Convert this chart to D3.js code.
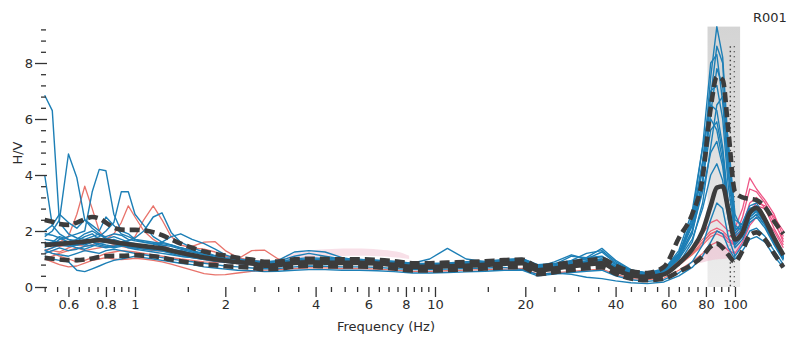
<!DOCTYPE html>
<html><head><meta charset="utf-8">
<script src="https://cdn.jsdelivr.net/npm/d3@7"></script>
<style>body{margin:0;background:#fff}svg{display:block}</style>
</head><body>
<svg id="c" width="787" height="341"></svg>
<script>
// Frequency grid (Hz)
const freqs = [0.5,0.53,0.56,0.6,0.64,0.68,0.72,0.76,0.8,0.85,
 0.9,0.95,1.0,1.07,1.15,1.23,1.32,1.42,1.55,1.7,
 1.85,2.0,2.2,2.45,2.7,3.0,3.4,3.8,4.3,4.9,
 5.6,6.4,7.3,8.4,9.6,11,12.7,14.7,17,19.5,
 22,25,28.5,32,36,40,45,51,58,65,
 72,78,83,87,91,95,100,106,112,118,
 126,135,145];

// Mean H/V and +/- std (dashed)
const median = [1.50,1.52,1.54,1.57,1.60,1.62,1.65,1.68,1.65,1.60,
 1.56,1.53,1.50,1.46,1.42,1.38,1.30,1.22,1.14,1.05,
 0.99,0.94,0.89,0.84,0.76,0.78,0.86,0.88,0.87,0.86,
 0.86,0.84,0.79,0.72,0.72,0.74,0.76,0.79,0.83,0.85,
 0.60,0.66,0.74,0.80,0.85,0.60,0.42,0.36,0.45,0.85,
 1.35,2.00,2.90,3.55,3.60,2.75,1.70,1.95,2.65,2.82,
 2.40,1.75,1.14];
const upper = [2.39,2.33,2.25,2.22,2.30,2.42,2.50,2.45,2.30,2.12,
 2.05,2.04,2.04,2.02,1.96,1.85,1.70,1.55,1.40,1.27,
 1.18,1.12,1.04,0.98,0.90,0.91,0.99,1.01,1.00,0.99,
 0.99,0.97,0.92,0.85,0.85,0.87,0.89,0.92,0.96,0.98,
 0.74,0.80,0.88,0.95,1.00,0.76,0.56,0.50,0.72,1.75,
 2.60,3.90,6.40,7.50,7.40,5.60,3.40,3.20,3.15,3.10,
 2.85,2.35,1.90];
const lower = [1.04,1.01,0.98,0.96,0.96,0.98,1.02,1.07,1.10,1.11,
 1.11,1.12,1.14,1.12,1.10,1.05,0.98,0.92,0.86,0.80,
 0.78,0.74,0.72,0.69,0.63,0.65,0.73,0.75,0.74,0.73,
 0.73,0.71,0.66,0.59,0.59,0.61,0.63,0.66,0.70,0.72,
 0.46,0.53,0.61,0.67,0.71,0.48,0.30,0.24,0.30,0.55,
 0.80,1.10,1.45,1.55,1.40,1.15,0.90,1.30,1.85,1.95,
 1.70,1.20,0.70];

// Individual windows (blue)
const blue1 = [6.85,6.30,2.30,1.90,1.75,1.70,1.80,1.90,1.75,1.65,
 1.60,1.55,1.50,1.45,1.40,1.30,1.25,1.15,1.10,1.00,
 0.95,0.90,0.85,0.82,0.80,0.80,0.90,0.92,0.90,0.88,
 0.86,0.84,0.80,0.75,0.76,0.78,0.80,0.84,0.90,0.92,
 0.70,0.72,0.80,0.90,0.95,0.70,0.50,0.42,0.55,1.10,
 2.20,4.20,7.50,9.30,8.20,5.00,2.40,2.20,2.80,2.90,
 2.40,1.70,1.05];
const blue2 = [4.00,2.20,1.90,1.70,1.55,1.50,1.60,1.55,1.50,1.45,
 1.50,1.45,1.40,1.35,1.32,1.28,1.20,1.10,1.05,0.98,
 0.92,0.88,0.84,0.80,0.78,0.80,0.85,0.90,0.90,0.88,
 0.87,0.85,0.80,0.74,0.74,0.76,0.78,0.80,0.86,0.90,
 0.66,0.70,0.78,0.86,0.92,0.66,0.46,0.38,0.50,1.00,
 1.90,3.60,6.80,8.60,8.00,4.60,2.10,2.10,2.70,2.85,
 2.30,1.60,1.00];
const blue3 = [1.80,2.00,2.40,4.75,3.90,2.40,2.10,1.90,1.70,1.80,
 1.70,1.60,1.55,1.50,1.45,1.40,1.35,1.25,1.15,1.05,
 1.00,0.95,0.90,0.86,0.82,0.84,0.92,0.96,0.95,0.92,
 0.90,0.88,0.84,0.78,0.77,0.80,0.82,0.85,0.90,0.95,
 0.72,0.75,0.82,0.92,1.00,0.75,0.52,0.44,0.56,1.05,
 2.00,3.80,6.20,7.80,7.20,4.20,2.00,2.30,2.90,3.00,
 2.50,1.80,1.15];
const blue4 = [1.60,1.50,1.70,1.80,1.90,2.00,3.40,4.20,4.15,2.60,
 2.00,1.90,1.70,1.60,1.55,1.50,1.45,1.35,1.25,1.15,
 1.05,1.00,0.95,0.90,0.85,0.86,0.95,1.00,0.98,0.95,
 0.95,0.92,0.88,0.82,0.80,0.82,0.85,0.88,0.95,1.00,
 0.78,0.80,0.88,1.00,1.08,0.80,0.55,0.46,0.60,1.20,
 2.40,4.50,7.00,7.20,6.00,3.60,1.90,2.20,2.80,2.90,
 2.45,1.80,1.10];
const blue5 = [1.30,1.40,1.50,1.60,1.50,1.60,1.70,1.80,2.00,2.30,
 3.40,3.40,2.60,2.20,1.80,1.60,1.50,1.40,1.30,1.20,
 1.10,1.02,0.96,0.90,0.88,0.90,1.00,1.05,1.02,1.00,
 0.98,0.95,0.90,0.85,0.84,0.86,0.90,0.92,0.98,1.02,
 0.80,0.84,0.92,1.05,1.10,0.82,0.60,0.50,0.62,1.30,
 2.70,5.00,6.50,6.30,5.00,3.00,1.80,2.10,2.70,2.85,
 2.40,1.75,1.10];
const blue6 = [1.40,1.60,1.80,1.70,1.65,1.80,1.90,1.70,1.60,1.70,
 1.60,1.65,1.75,2.00,2.50,2.65,1.95,1.60,1.40,1.25,
 1.12,1.05,1.00,0.95,0.90,0.92,1.10,1.20,1.10,1.00,
 0.98,0.96,0.92,0.85,1.00,1.38,1.00,0.90,0.95,1.00,
 0.76,0.82,0.95,1.20,1.30,0.90,0.60,0.50,0.65,1.20,
 2.20,3.80,5.60,5.90,4.80,2.90,1.60,1.90,2.50,2.70,
 2.30,1.70,1.05];
const blue7 = [1.20,1.30,1.40,1.30,1.35,1.45,1.50,1.45,1.40,1.45,
 1.50,1.45,1.40,1.45,1.50,1.60,1.80,1.90,1.70,1.55,
 1.35,1.15,1.00,0.92,0.88,0.95,1.25,1.30,1.25,1.05,
 0.95,0.92,0.88,0.82,0.80,0.84,0.86,0.88,0.92,0.96,
 0.74,0.80,1.10,1.05,1.38,0.95,0.62,0.48,0.60,1.10,
 2.00,3.40,4.80,5.20,4.30,2.60,1.50,1.80,2.40,2.60,
 2.20,1.60,1.00];
const blue8 = [1.10,1.00,0.95,0.90,0.60,0.55,0.65,0.75,0.85,0.95,
 1.00,1.05,1.10,1.05,1.00,0.95,0.90,0.85,0.80,0.72,
 0.68,0.64,0.60,0.58,0.55,0.56,0.60,0.62,0.62,0.60,
 0.60,0.58,0.55,0.50,0.50,0.52,0.54,0.56,0.60,0.60,
 0.40,0.46,0.52,0.56,0.60,0.40,0.26,0.20,0.26,0.50,
 0.90,1.50,2.40,3.00,2.80,1.80,1.10,1.50,2.00,2.10,
 1.80,1.30,0.80];
const blue9 = [1.70,1.65,1.60,1.50,1.40,1.35,1.45,1.55,1.60,1.55,
 1.50,1.40,1.35,1.30,1.25,1.20,1.15,1.10,1.05,1.00,
 0.95,0.90,0.86,0.82,0.78,0.80,0.86,0.90,0.90,0.88,
 0.88,0.86,0.82,0.76,0.76,0.80,0.80,0.82,0.88,0.90,
 0.72,0.90,1.15,1.00,1.25,0.85,0.55,0.45,0.55,1.00,
 1.70,2.80,4.00,4.40,3.80,2.40,1.40,1.70,2.30,2.50,
 2.10,1.50,0.95];
const blue10 = [1.30,1.20,1.15,1.10,1.20,1.30,1.25,1.20,1.30,1.35,
 1.30,1.25,1.20,1.15,1.10,1.05,1.00,0.95,0.90,0.85,
 0.80,0.75,0.72,0.68,0.65,0.66,0.72,0.75,0.74,0.72,
 0.72,0.70,0.66,0.62,0.62,0.64,0.66,0.68,0.70,0.62,
 0.45,0.50,0.45,0.35,0.30,0.22,0.15,0.12,0.18,0.40,
 0.70,1.10,1.60,2.00,1.90,1.40,1.00,1.30,1.70,1.80,
 1.60,1.10,0.70];
const blue11 = [1.90,1.85,1.75,1.60,1.70,1.90,2.00,1.85,1.80,1.90,
 1.85,1.70,1.65,1.60,1.55,1.45,1.35,1.30,1.20,1.10,
 1.00,0.95,0.90,0.86,0.82,0.82,0.90,0.94,0.93,0.90,
 0.90,0.87,0.83,0.78,0.78,0.80,0.82,0.84,0.88,0.90,
 0.68,0.72,0.80,0.88,0.92,0.70,0.50,0.42,0.55,1.15,
 2.50,5.00,8.00,8.30,6.60,4.00,2.20,2.00,2.60,2.75,
 2.30,1.65,1.05];
const blue12 = [1.55,1.60,1.50,1.45,1.50,1.55,1.60,1.50,1.45,1.40,
 1.45,1.50,1.45,1.40,1.35,1.30,1.25,1.20,1.12,1.05,
 1.00,0.94,0.90,0.85,0.80,0.80,0.88,0.90,0.88,0.86,
 0.85,0.82,0.78,0.72,0.72,0.75,0.76,0.78,0.82,0.84,
 0.62,0.66,0.74,0.82,0.86,0.60,0.42,0.34,0.45,0.85,
 1.60,3.00,5.00,6.50,6.80,5.20,2.60,2.00,2.40,2.60,
 2.20,1.55,1.00];
const blue13 = [2.00,2.20,2.60,2.30,2.10,2.40,2.20,2.00,2.50,2.20,
 1.90,1.80,1.70,1.65,1.60,1.55,1.50,1.40,1.30,1.15,
 1.05,1.00,0.95,0.90,0.86,0.86,0.94,0.98,0.96,0.94,
 0.92,0.90,0.86,0.80,0.80,0.82,0.84,0.86,0.92,0.95,
 0.72,0.76,0.84,0.94,1.00,0.74,0.52,0.44,0.56,1.10,
 2.30,4.40,6.00,5.60,4.50,2.80,1.60,1.90,2.50,2.70,
 2.30,1.70,1.05];

// Individual windows (red)
const red1 = [1.30,1.40,1.60,1.80,2.60,3.60,2.80,2.00,1.70,1.60,
 1.50,1.50,1.45,1.40,1.35,1.30,1.25,1.15,1.05,0.98,
 0.92,0.88,0.84,0.80,0.76,0.78,0.85,0.88,0.88,0.86,
 0.86,0.84,0.80,0.74,0.74,0.76,0.78,0.80,0.84,0.86,
 0.62,0.66,0.74,0.80,0.85,0.62,0.44,0.38,0.46,0.80,
 1.20,1.60,1.90,2.00,1.90,1.70,1.60,2.20,3.00,3.20,
 2.80,2.10,1.50];
const red2 = [1.20,1.30,1.25,1.40,1.50,1.45,1.50,1.60,1.70,1.90,
 2.30,2.90,2.50,2.00,1.70,1.50,1.35,1.25,1.15,1.05,
 0.98,0.92,0.88,0.84,0.80,0.82,0.90,0.94,0.92,0.90,
 0.90,0.88,0.84,0.78,0.78,0.80,0.82,0.84,0.88,0.90,
 0.66,0.70,0.78,0.85,0.90,0.66,0.47,0.40,0.50,0.85,
 1.30,1.70,2.00,2.10,2.00,1.80,1.80,2.50,3.50,3.40,
 3.00,2.40,1.60];
const red3 = [1.60,1.50,1.45,1.50,1.55,1.60,1.70,1.65,1.60,1.55,
 1.60,1.65,1.80,2.40,2.90,2.40,1.80,1.50,1.40,1.35,
 1.25,1.10,1.00,0.95,0.90,0.88,0.95,1.00,0.98,0.95,
 0.94,0.92,0.88,0.82,0.82,0.84,0.86,0.88,0.92,0.94,
 0.70,0.74,0.82,0.90,0.95,0.70,0.50,0.42,0.52,0.90,
 1.40,1.90,2.30,2.40,2.20,2.00,2.10,2.80,3.90,3.50,
 3.10,2.60,1.80];
const red4 = [1.00,1.10,1.20,1.30,1.40,1.30,1.35,1.40,1.45,1.50,
 1.45,1.40,1.40,1.35,1.30,1.28,1.25,1.30,1.45,1.60,
 1.62,1.30,1.05,0.95,0.88,0.85,0.90,0.92,0.90,0.88,
 0.88,0.86,0.82,0.76,0.76,0.78,0.80,0.82,0.86,0.88,
 0.64,0.68,0.76,0.82,0.88,0.64,0.45,0.38,0.48,0.80,
 1.20,1.60,1.90,2.00,1.90,1.70,1.50,2.00,2.70,3.00,
 2.90,2.50,2.00];
const red5 = [1.35,1.20,1.10,1.00,0.90,0.95,1.05,1.10,1.20,1.25,
 1.30,1.28,1.25,1.20,1.15,1.10,1.05,1.00,0.95,0.90,
 0.88,0.90,1.00,1.30,1.32,1.00,0.88,0.90,0.88,0.86,
 0.86,0.84,0.80,0.74,0.74,0.76,0.78,0.80,0.84,0.86,
 0.62,0.66,0.74,0.80,0.85,0.62,0.44,0.38,0.46,0.78,
 1.15,1.50,1.80,1.90,1.80,1.60,1.50,1.90,2.60,2.90,
 2.80,2.30,1.70];
const red6 = [1.00,0.90,0.80,0.72,0.75,0.85,0.95,1.00,1.05,1.00,
 0.98,1.00,1.02,1.00,0.95,0.90,0.82,0.72,0.60,0.48,
 0.43,0.44,0.50,0.56,0.60,0.62,0.66,0.68,0.68,0.66,
 0.66,0.64,0.60,0.56,0.56,0.58,0.60,0.62,0.64,0.66,
 0.46,0.50,0.56,0.60,0.64,0.46,0.30,0.26,0.32,0.60,
 0.90,1.20,1.50,1.60,1.50,1.30,1.20,1.60,2.20,2.50,
 2.40,2.00,1.40];

const blueCurves = [blue1,blue2,blue3,blue4,blue5,blue6,blue7,blue8,blue9,blue10,blue11,blue12,blue13];
const redCurves = [red1,red2,red3,red4,red5,red6];

// faint rejected-window shading
const pinkF1 = [3.2,3.8,4.5,5.5,6.5,7.5,8.2];
const pinkHi1 = [1.15,1.32,1.36,1.38,1.35,1.28,1.12];
const pinkLo1 = [1.00,1.05,1.10,1.12,1.10,1.05,1.00];
const pinkF2 = [76,82,88,94,100,106,112];
const pinkHi2 = [1.10,1.40,1.50,1.45,1.70,2.30,2.50];
const pinkLo2 = [0.85,0.95,1.00,1.00,1.10,1.50,2.10];

// peak frequency band (Hz)
const peakBand = [81, 104];
const peakDots = [96.5, 99.5];

const xTickLabels = [0.6,0.8,1,2,4,6,8,10,20,40,60,80,100];
const yTickLabels = [0,2,4,6,8];

const svg = d3.select("#c");
const W = 787, H = 341;
const x = d3.scaleLog().domain([0.5,150]).range([44.7,787.8]);
const y = d3.scaleLinear().domain([0,9.3]).range([287,26.6]);

const defs = svg.append("defs");
defs.append("clipPath").attr("id","clip").append("rect")
  .attr("x",44).attr("y",20).attr("width",W-44).attr("height",268);
const gb = defs.append("linearGradient").attr("id","band").attr("x1",0).attr("x2",0).attr("y1",0).attr("y2",1);
gb.append("stop").attr("offset","0%").attr("stop-color","#bdbdbd");
gb.append("stop").attr("offset","100%").attr("stop-color","#e2e2e2");
const gr = defs.append("linearGradient").attr("id","redgrad").attr("gradientUnits","userSpaceOnUse")
  .attr("x1",0).attr("x2",W).attr("y1",0).attr("y2",0);
gr.append("stop").attr("offset","0%").attr("stop-color","#e8736b");
gr.append("stop").attr("offset","88%").attr("stop-color","#e8736b");
gr.append("stop").attr("offset","93%").attr("stop-color","#ee5686");
gr.append("stop").attr("offset","100%").attr("stop-color","#ee5686");

const plot = svg.append("g").attr("clip-path","url(#clip)");

// peak band
plot.append("rect")
  .attr("x", x(peakBand[0])).attr("width", x(peakBand[1]) - x(peakBand[0]))
  .attr("y", y(9.3)).attr("height", y(0) - y(9.3))
  .attr("fill","url(#band)").attr("opacity",0.65);
peakDots.forEach((f,k) => {
  plot.append("line").attr("x1",x(f)).attr("x2",x(f)).attr("y1",y(8.6)).attr("y2",y(0))
    .attr("stroke","#444").attr("stroke-width",1.4)
    .attr("stroke-dasharray", k ? "1,4" : "1.5,3");
});

// pink areas
const area = (F) => d3.area().curve(d3.curveBasis)
  .x((d,i)=>x(F[i])).y0(d=>y(d[0])).y1(d=>y(d[1]));
plot.append("path").datum(pinkLo1.map((v,i)=>[v,pinkHi1[i]]))
  .attr("d", area(pinkF1)).attr("fill","#f3c6d6").attr("opacity",0.55);
plot.append("path").datum(pinkLo2.map((v,i)=>[v,pinkHi2[i]]))
  .attr("d", area(pinkF2)).attr("fill","#efc0d0").attr("opacity",0.6);

const line = d3.line().x((d,i)=>x(freqs[i])).y(d=>y(d));

plot.selectAll(".red").data(redCurves).join("path")
  .attr("class","red").attr("d", line).attr("fill","none")
  .attr("stroke","url(#redgrad)").attr("stroke-width",1.3).attr("stroke-linejoin","round");
plot.selectAll(".blue").data(blueCurves).join("path")
  .attr("class","blue").attr("d", line).attr("fill","none")
  .attr("stroke","#1d7fb6").attr("stroke-width",1.4).attr("stroke-linejoin","round");

const sm = d3.line().curve(d3.curveMonotoneX).x((d,i)=>x(freqs[i])).y(d=>y(d));
[upper, lower].forEach(s => {
  plot.append("path").datum(s).attr("d", sm).attr("fill","none")
    .attr("stroke","#3c3c3c").attr("stroke-width",4.6).attr("stroke-dasharray","10,5");
});
plot.append("path").datum(median).attr("d", sm).attr("fill","none")
  .attr("stroke","#3c3c3c").attr("stroke-width",4.6);

// axes
const font = "DejaVu Sans, Verdana, sans-serif";
const xMinor = [];
for (let k=10;k<=20;k++) xMinor.push(+(k*0.05).toFixed(2));
for (let k=3;k<=20;k++) xMinor.push(k*0.5);
for (let k=3;k<=20;k++) xMinor.push(k*5);
const xMinorOnly = xMinor.filter(v => !xTickLabels.includes(v));

const gxm = svg.append("g").attr("transform","translate(0,287)")
  .call(d3.axisBottom(x).tickValues(xMinorOnly).tickSize(5).tickFormat(""));
const gx = svg.append("g").attr("transform","translate(0,287)")
  .call(d3.axisBottom(x).tickValues(xTickLabels).tickSize(10).tickPadding(3).tickFormat(d => String(d)));

const yMinor = [];
for (let k=0;k<=23;k++) { const v = +(k*0.4).toFixed(1); if (!yTickLabels.includes(v)) yMinor.push(v); }
const gym = svg.append("g").attr("transform","translate(46,0)")
  .call(d3.axisLeft(y).tickValues(yMinor).tickSize(5).tickFormat(""));
const gy = svg.append("g").attr("transform","translate(47,0)")
  .call(d3.axisLeft(y).tickValues(yTickLabels).tickSize(12).tickPadding(2).tickFormat(d => String(d)));

[gxm,gx,gym,gy].forEach(g => {
  g.select(".domain").remove();
  g.selectAll(".tick line").attr("stroke","#333").attr("stroke-width",1.3);
  g.selectAll("text").attr("fill","#2b2b2b").style("font-family",font).style("font-size","13px");
});

svg.append("text").attr("x",386).attr("y",331).attr("text-anchor","middle")
  .style("font-family",font).style("font-size","13px").attr("fill","#2b2b2b").text("Frequency (Hz)");
svg.append("text").attr("transform","translate(22,153) rotate(-90)").attr("text-anchor","middle")
  .style("font-family",font).style("font-size","13px").attr("fill","#2b2b2b").text("H/V");
svg.append("text").attr("x",753).attr("y",22)
  .style("font-family",font).style("font-size","13px").attr("fill","#2b2b2b").text("R001");
</script>
</body></html>
